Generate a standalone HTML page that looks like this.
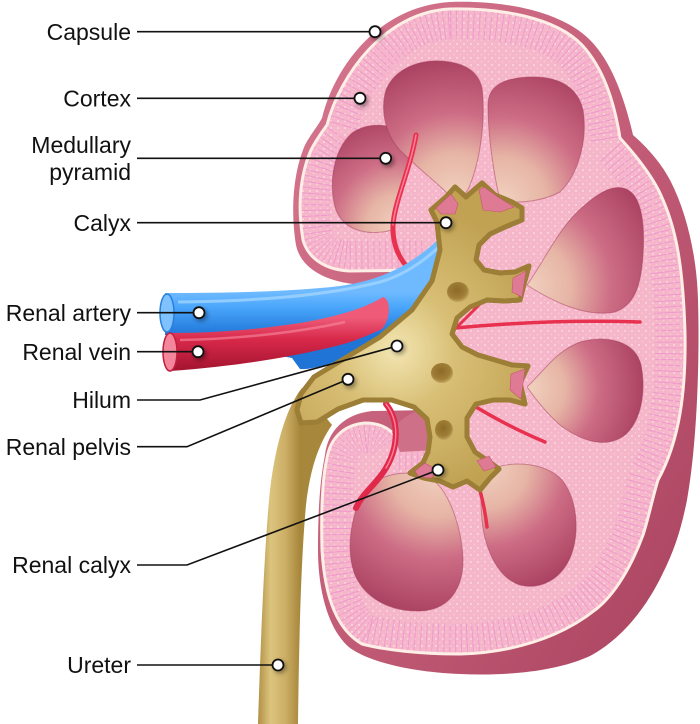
<!DOCTYPE html>
<html><head><meta charset="utf-8"><style>
html,body{margin:0;padding:0;background:#fff;}
svg{display:block;}
text{font-family:"Liberation Sans",Arial,sans-serif;font-size:23px;fill:#111;}
</style></head><body>
<svg width="700" height="724" viewBox="0 0 700 724" xmlns="http://www.w3.org/2000/svg">
<defs>
  <linearGradient id="capG" x1="0" y1="0" x2="1" y2="1">
    <stop offset="0" stop-color="#d77890"/>
    <stop offset=".5" stop-color="#c35d78"/>
    <stop offset="1" stop-color="#a8425e"/>
  </linearGradient>
  <pattern id="dots" width="7" height="7" patternUnits="userSpaceOnUse">
    <circle cx="2" cy="2" r="1" fill="#fff" opacity=".45"/>
    <circle cx="5.5" cy="5.5" r=".8" fill="#fff" opacity=".3"/>
  </pattern>
  <clipPath id="cc"><path id="innerP" d="M 450,9 C 500,8 555,17 582,45 C 603,68 614,100 620,138 C 640,160 655,180 663,200 C 676,230 683,265 685,333 C 686,390 680,440 658,480 C 652,500 648,520 643,535 C 632,565 615,595 595,610 C 560,638 510,653 460,654 C 420,654 385,650 362,644 C 338,630 325,600 322,550 C 321,510 322,480 327,458 C 330,440 342,425 365,423 C 382,423 392,430 398,440 L 425,440 L 425,270 L 350,271 C 325,270 308,258 303,240 C 298,210 299,178 311,150 C 316,140 322,132 327,125 C 340,75 385,12 450,9 Z"/></clipPath>
  <radialGradient id="g1" gradientUnits="userSpaceOnUse" cx="400" cy="228" r="115"><stop offset="0" stop-color="#f2d2c0"/><stop offset=".3" stop-color="#e6b4a5"/><stop offset=".6" stop-color="#cd6c85"/><stop offset="1" stop-color="#a8405f"/></radialGradient>
  <radialGradient id="g2" gradientUnits="userSpaceOnUse" cx="455" cy="198" r="142"><stop offset="0" stop-color="#f2d2c0"/><stop offset=".32" stop-color="#e6b4a5"/><stop offset=".6" stop-color="#cd6c85"/><stop offset="1" stop-color="#a8405f"/></radialGradient>
  <radialGradient id="g3" gradientUnits="userSpaceOnUse" cx="502" cy="202" r="142"><stop offset="0" stop-color="#f2d2c0"/><stop offset=".32" stop-color="#e6b4a5"/><stop offset=".6" stop-color="#cd6c85"/><stop offset="1" stop-color="#a8405f"/></radialGradient>
  <radialGradient id="g4" gradientUnits="userSpaceOnUse" cx="525" cy="286" r="145"><stop offset="0" stop-color="#f2d2c0"/><stop offset=".32" stop-color="#e6b4a5"/><stop offset=".6" stop-color="#cd6c85"/><stop offset="1" stop-color="#a8405f"/></radialGradient>
  <radialGradient id="g5" gradientUnits="userSpaceOnUse" cx="527" cy="388" r="120"><stop offset="0" stop-color="#f2d2c0"/><stop offset=".32" stop-color="#e6b4a5"/><stop offset=".6" stop-color="#cd6c85"/><stop offset="1" stop-color="#a8405f"/></radialGradient>
  <radialGradient id="g6" gradientUnits="userSpaceOnUse" cx="437" cy="470" r="148"><stop offset="0" stop-color="#f2d2c0"/><stop offset=".32" stop-color="#e6b4a5"/><stop offset=".6" stop-color="#cd6c85"/><stop offset="1" stop-color="#a8405f"/></radialGradient>
  <radialGradient id="g7" gradientUnits="userSpaceOnUse" cx="485" cy="466" r="135"><stop offset="0" stop-color="#f2d2c0"/><stop offset=".32" stop-color="#e6b4a5"/><stop offset=".6" stop-color="#cd6c85"/><stop offset="1" stop-color="#a8405f"/></radialGradient>
  <linearGradient id="blueG" gradientUnits="userSpaceOnUse" x1="0" y1="292" x2="0" y2="336">
    <stop offset="0" stop-color="#6fbaff"/><stop offset=".35" stop-color="#49a6fb"/><stop offset="1" stop-color="#1f74d6"/>
  </linearGradient>
  <linearGradient id="redG" gradientUnits="userSpaceOnUse" x1="0" y1="318" x2="0" y2="372">
    <stop offset="0" stop-color="#ee5a78"/><stop offset=".4" stop-color="#d8284a"/><stop offset="1" stop-color="#a1142e"/>
  </linearGradient>
  <linearGradient id="urG" gradientUnits="userSpaceOnUse" x1="258" y1="0" x2="300" y2="0">
    <stop offset="0" stop-color="#b09045"/><stop offset=".3" stop-color="#dcc47e"/><stop offset=".65" stop-color="#ccae66"/><stop offset="1" stop-color="#a7873b"/>
  </linearGradient>
  <radialGradient id="pelG" gradientUnits="userSpaceOnUse" cx="395" cy="350" r="150">
    <stop offset="0" stop-color="#f3e6b2"/><stop offset=".4" stop-color="#d8bf76"/><stop offset="1" stop-color="#c1a253"/>
  </radialGradient>
  <radialGradient id="holeG" cx=".45" cy=".4" r=".6">
    <stop offset="0" stop-color="#8d6b28"/><stop offset=".7" stop-color="#9f7e36"/><stop offset="1" stop-color="#c4a65e"/>
  </radialGradient>
  <filter id="sh" x="-50%" y="-50%" width="200%" height="200%"><feGaussianBlur stdDeviation="2"/></filter>
</defs>

<!-- capsule -->
<path d="M 450,2 C 500,0 560,10 590,40 C 612,62 625,100 633,135 C 650,150 662,165 670,180 C 688,215 697,260 698,300 C 700,370 696,450 687,500 C 680,535 672,555 662,575 C 645,610 620,640 590,656 C 555,672 505,676 460,674 C 410,672 370,662 350,648 C 328,630 318,590 318,550 C 318,510 320,480 325,455 C 328,430 345,414 372,411 L 430,410 L 430,284 L 353,284 C 320,280 300,265 296,245 C 291,215 292,175 305,145 C 310,135 318,126 322,118 C 335,65 380,6 450,2 Z" fill="url(#capG)"/>
<!-- cortex -->
<use href="#innerP" fill="#f6b6ca"/>
<use href="#innerP" fill="url(#dots)"/>
<g clip-path="url(#cc)">
  <use href="#innerP" fill="none" stroke="#ea7ccd" stroke-opacity=".5" stroke-width="60" stroke-dasharray="1 5"/>
</g>
<use href="#innerP" fill="none" stroke="#fdeee6" stroke-width="3"/>
<!-- sinus darker area -->
<path d="M 392,432 C 398,420 412,410 432,408 L 436,450 L 400,452 Z" fill="#cf7089"/>

<!-- pyramids -->
<g stroke="#a33d5c" stroke-opacity=".5" stroke-width="1">
<path d="M 392,230 C 370,236 345,232 336,210 C 328,185 333,150 352,133 C 370,120 400,124 410,140 C 418,155 408,172 400,190 C 394,204 390,218 392,230 Z" fill="url(#g1)"/>
<path d="M 452,198 C 440,185 420,170 405,155 C 385,138 380,110 386,90 C 395,68 420,60 440,61 C 462,62 478,70 482,88 C 486,120 480,160 470,185 C 466,195 460,200 452,198 Z" fill="url(#g2)"/>
<path d="M 500,200 C 495,180 488,140 488,105 C 488,88 500,78 530,77 C 560,76 578,88 583,110 C 588,140 578,175 560,192 C 545,200 520,205 500,200 Z" fill="url(#g3)"/>
<path d="M 527,285 C 545,260 560,225 585,205 C 600,192 615,183 628,190 C 642,198 645,225 643,255 C 641,285 635,305 615,312 C 585,318 550,300 527,285 Z" fill="url(#g4)"/>
<path d="M 527,387 C 545,370 555,352 580,342 C 605,335 635,340 641,365 C 646,390 642,420 625,435 C 605,450 580,440 560,425 C 545,412 535,398 527,387 Z" fill="url(#g5)"/>
<path d="M 430,478 C 450,490 462,530 463,560 C 463,590 448,610 420,611 C 390,612 365,598 355,575 C 346,552 350,520 362,495 C 375,474 405,468 430,478 Z" fill="url(#g6)"/>
<path d="M 490,470 C 510,460 545,462 562,480 C 578,500 580,535 570,558 C 560,580 540,590 520,585 C 498,578 485,550 482,520 C 480,498 480,480 490,470 Z" fill="url(#g7)"/>
</g>

<!-- interlobar red vessels -->
<g fill="none" stroke-linecap="round">
<path d="M 416,135 C 410,170 395,200 393,225 C 392,245 400,260 410,270" stroke="#e8304f" stroke-width="5"/>
<path d="M 416,135 C 410,170 395,200 393,225" stroke="#ff8098" stroke-width="1.5"/>
<path d="M 455,328 C 520,322 580,320 640,322" stroke="#e8304f" stroke-width="3.5"/>
<path d="M 484,300 L 456,328" stroke="#e8304f" stroke-width="3"/>
<path d="M 468,402 C 490,416 512,428 545,442" stroke="#e8304f" stroke-width="3.5"/>
<path d="M 386,404 C 399,420 399,446 386,468 C 376,485 363,492 356,508" stroke="#e0284a" stroke-width="6"/>
<path d="M 386,404 C 399,420 399,446 386,468" stroke="#ff7f96" stroke-width="1.5"/>
<path d="M 476,478 C 482,495 485,510 487,527" stroke="#e8304f" stroke-width="3.5"/>
</g>

<!-- renal artery (blue) -->
<path d="M 165,293 C 220,293 290,292 340,286 C 385,280 415,262 442,236 L 442,292 C 420,320 390,340 360,352 C 330,365 310,370 300,369 L 292,358 L 165,335 Z" fill="url(#blueG)"/>
<path d="M 178,302 C 250,301 320,297 380,282 C 405,275 425,260 440,246" fill="none" stroke="#a8d8ff" stroke-width="3" stroke-opacity=".7"/>
<ellipse cx="167" cy="313" rx="7" ry="19" fill="#7fc2ff" stroke="#2a80dc" stroke-width="1.5"/>
<!-- renal vein (red) -->
<path d="M 170,333 C 220,333 260,329 300,323 C 340,316 365,308 383,297 C 392,300 390,320 382,329 C 367,336 352,342 340,345 C 300,355 250,365 170,371 Z" fill="url(#redG)"/>
<path d="M 180,340 C 240,339 300,332 345,322" fill="none" stroke="#f88aa0" stroke-width="2.5" stroke-opacity=".6"/>
<ellipse cx="170" cy="352" rx="7" ry="19" fill="#f4869c" stroke="#c21d3f" stroke-width="1.5"/>

<!-- ureter -->
<path d="M 302,388 C 288,405 276,440 270,490 C 266,530 262,600 258,724 L 298,724 C 299,640 301,560 306,505 C 310,470 318,445 332,425 Z" fill="url(#urG)"/>

<!-- pelvis -->
<path id="pel" d="M 431,210 L 446,197 L 455,187 L 466,197 L 482,183 L 495,195 L 512,202 L 522,208 L 522,220 L 505,227 L 490,234 L 479,245 L 476,260 L 484,270 L 500,273 L 515,272 L 529,266 L 524,284 L 520,300 L 505,301 L 487,300 L 470,307 L 457,318 L 452,334 L 462,347 L 478,355 L 495,360 L 512,365 L 528,366 L 520,383 L 525,404 L 510,400 L 493,400 L 476,404 L 467,418 L 467,437 L 475,452 L 488,461 L 499,469 L 490,478 L 480,490 L 467,481 L 453,487 L 440,481 L 424,478 L 410,473 L 423,463 L 428,452 L 430,437 L 427,419 L 414,407 L 392,400 L 363,400 L 338,409 L 317,422 L 301,423 L 297,410 L 301,394 L 314,377 L 347,357 L 380,337 L 412,310 L 432,281 L 440,250 L 437,222 Z" fill="url(#pelG)" stroke="#9c7e36" stroke-width="5" stroke-linejoin="round"/>
<use href="#pel" fill="none" stroke="#f3e5ad" stroke-width="2.2" stroke-linejoin="round"/>

<!-- papillae in calyces -->
<g fill="#df7a95" stroke="#c65672" stroke-width=".6">
<path d="M 436,208 L 451,194 L 458,204 L 455,214 L 441,214 Z"/>
<path d="M 479,190 L 484,187 L 498,197 L 514,207 L 500,212 L 483,210 Z"/>
<path d="M 513,278 L 526,271 L 522,297 L 512,292 Z"/>
<path d="M 511,374 L 525,369 L 521,399 L 510,390 Z"/>
<path d="M 415,471 L 425,463 L 437,470 L 432,478 L 419,477 Z"/>
<path d="M 477,461 L 489,456 L 496,467 L 484,471 Z"/>
</g>

<!-- pelvis holes -->
<ellipse cx="458" cy="292" rx="11" ry="10" fill="url(#holeG)"/>
<ellipse cx="442" cy="373" rx="11" ry="10" fill="url(#holeG)"/>
<ellipse cx="444" cy="430" rx="9" ry="10" fill="url(#holeG)"/>

<!-- leader lines -->
<g fill="none" stroke="#111" stroke-width="1.6">
<path d="M 137,31.7 L 375,31.7"/>
<path d="M 137,98.3 L 360,98.3"/>
<path d="M 137,158.3 L 385.7,158.3"/>
<path d="M 137,222.7 L 446,222.7"/>
<path d="M 137,312.7 L 199,312.7"/>
<path d="M 137,351.7 L 198,351.7"/>
<path d="M 137,400 L 200,400 L 397,346"/>
<path d="M 137,446.7 L 187,446.7 L 348,379.3"/>
<path d="M 137,565 L 187,565 L 438,470"/>
<path d="M 137,665 L 278,665"/>
</g>

<!-- dots -->
<g>
<g fill="#000" opacity=".35" filter="url(#sh)">
<circle cx="377" cy="34" r="6.5"/><circle cx="362" cy="101" r="6.5"/><circle cx="388" cy="161" r="6.5"/><circle cx="448" cy="225" r="6.5"/>
<circle cx="201" cy="315" r="6.5"/><circle cx="200" cy="354" r="6.5"/><circle cx="399" cy="348" r="6.5"/><circle cx="350" cy="382" r="6.5"/>
<circle cx="440" cy="472" r="6.5"/><circle cx="280" cy="667" r="6.5"/>
</g>
<g fill="#fff" stroke="#111" stroke-width="1.8">
<circle cx="375" cy="31.7" r="5.5"/><circle cx="360" cy="98.3" r="5.5"/><circle cx="385.7" cy="158.3" r="5.5"/><circle cx="446" cy="222.7" r="5.5"/>
<circle cx="199" cy="312.7" r="5.5"/><circle cx="198" cy="351.7" r="5.5"/><circle cx="397" cy="346" r="5.5"/><circle cx="348" cy="379.3" r="5.5"/>
<circle cx="438" cy="470" r="5.5"/><circle cx="278" cy="665" r="5.5"/>
</g>
</g>

<!-- labels -->
<g text-anchor="end">
<text x="131" y="40">Capsule</text>
<text x="131" y="106.5">Cortex</text>
<text x="131" y="153">Medullary</text>
<text x="131" y="180">pyramid</text>
<text x="131" y="231">Calyx</text>
<text x="131" y="321">Renal artery</text>
<text x="131" y="360">Renal vein</text>
<text x="131" y="408">Hilum</text>
<text x="131" y="455">Renal pelvis</text>
<text x="131" y="573">Renal calyx</text>
<text x="131" y="673">Ureter</text>
</g>
</svg>
</body></html>
